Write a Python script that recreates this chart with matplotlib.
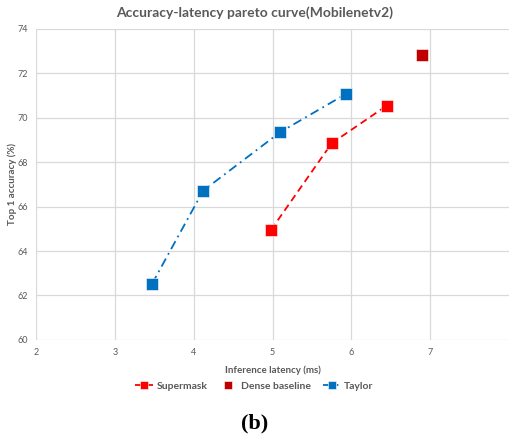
import matplotlib

matplotlib.use("Agg")

import matplotlib.pyplot as plt

supermask_latency = [4.98, 5.75, 6.45]
supermask_acc = [64.95, 68.85, 70.55]
dense_latency = [6.9]
dense_acc = [72.83]
taylor_latency = [3.47, 4.12, 5.1, 5.93]
taylor_acc = [62.52, 66.72, 69.36, 71.07]

x_ticks = [2, 3, 4, 5, 6, 7]
y_ticks = [60, 62, 64, 66, 68, 70, 72, 74]

text_color = "#595959"
plt.rcParams["font.family"] = ["Lato", "DejaVu Sans"]

fig = plt.figure(figsize=(5.09, 4.38), dpi=100)
ax = fig.add_axes([0.071, 0.224, 0.929, 0.71])

ax.plot(supermask_latency, supermask_acc, color="#FF0000", linestyle=(0, (4, 2.5)),
        linewidth=1.3, marker="s", markersize=9, markeredgecolor="white",
        markeredgewidth=0.4, label="Supermask", zorder=3)
ax.plot(dense_latency, dense_acc, color="#C00000", linestyle="none",
        marker="s", markersize=9, markeredgecolor="white", markeredgewidth=0.4,
        label="Dense baseline", zorder=3)
ax.plot(taylor_latency, taylor_acc, color="#0070C0", linestyle=(0, (5, 2.5, 1, 2.5)),
        linewidth=1.3, marker="s", markersize=9, markeredgecolor="white",
        markeredgewidth=0.4, label="Taylor", zorder=3)

ax.set_xlim(2, 8)
ax.set_ylim(60, 74)
ax.set_xticks(x_ticks)
ax.set_yticks(y_ticks)
ax.tick_params(length=0, labelsize=6.5, colors=text_color, pad=6)
for side in ax.spines:
    ax.spines[side].set_visible(False)
ax.grid(True, color="#D9D9D9", linewidth=0.9)
ax.set_axisbelow(True)

ax.set_xlabel("Inference latency (ms)", fontsize=7, color=text_color, fontweight="bold")
ax.xaxis.set_label_coords(0.5, -0.083)
ax.set_ylabel("Top 1 accuracy (%)", fontsize=7, color=text_color, fontweight="bold")
ax.yaxis.set_label_coords(-0.04, 0.5)
fig.text(0.5, 0.972, "Accuracy-latency pareto curve(Mobilenetv2)", ha="center", va="center",
         fontsize=10, fontweight="bold", color=text_color)

leg = fig.legend(loc="center", bbox_to_anchor=(0.5, 0.118), ncol=3, frameon=False,
                 fontsize=7.5, labelcolor=text_color, handlelength=1.7, columnspacing=1.15,
                 handletextpad=0.35, markerscale=0.7)
for t in leg.get_texts():
    t.set_fontweight("bold")

fig.text(0.5, 0.033, "(b)", ha="center", va="center", fontsize=16, fontweight="bold",
         family=["Liberation Serif", "DejaVu Serif"], color="black")

fig.savefig("out.png", dpi=100)
plt.close(fig)
